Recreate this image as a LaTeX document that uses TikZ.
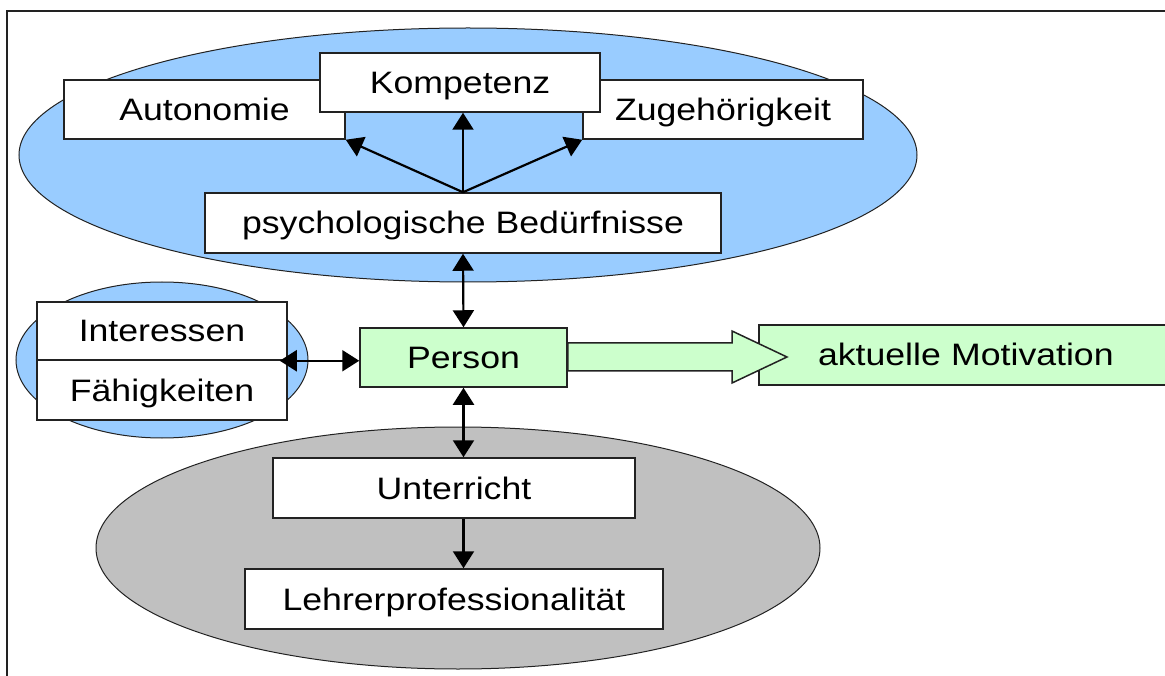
\documentclass[tikz,border=0pt]{standalone}
\usepackage{fontspec}
\setmainfont{Liberation Sans}[FakeStretch=1.15]
\usetikzlibrary{arrows.meta}

\definecolor{needblue}{HTML}{99CCFF}
\definecolor{teachgray}{HTML}{C0C0C0}
\definecolor{motgreen}{HTML}{CCFFCC}
\definecolor{edge}{HTML}{222222}

\tikzset{
  blob/.style={draw=edge, line width=1pt},
  box/.style={draw=edge, line width=1.5pt, fill=white, inner sep=0pt,
    font=\fontsize{31}{36}\selectfont, text height=24pt, text depth=2pt},
  greenbox/.style={box, fill=motgreen},
  link/.style={draw=black, line width=2.2pt,
    -{Triangle[length=17pt,width=21pt]}},
  biglink/.style={link, {Triangle[length=17pt,width=21pt]}-{Triangle[length=17pt,width=21pt]}}
}

\begin{document}
\begin{tikzpicture}[x=1pt,y=-1pt]
\clip (0,0) rectangle (1165,676);
\fill[white] (0,0) rectangle (1165,676);

% outer frame (open to the right and bottom)
\draw[edge, line width=2pt] (7,700) -- (7,11) -- (1200,11);

% grouping ellipses
\filldraw[blob, fill=needblue] (468,155) ellipse [x radius=449, y radius=127];
\filldraw[blob, fill=needblue] (162,360) ellipse [x radius=146, y radius=78];
\filldraw[blob, fill=teachgray] (458,548) ellipse [x radius=362, y radius=121];

% basic psychological needs
\node[box, minimum width=281pt, minimum height=59pt] (aut) at (204.5,109.5) {Autonomie};
\node[box, minimum width=280pt, minimum height=59pt] (zug) at (723,109.5) {Zugehörigkeit};
\node[box, minimum width=280pt, minimum height=59pt] (komp) at (460,82.5) {Kompetenz};
\node[box, minimum width=516pt, minimum height=60pt] (bed) at (463,223) {psychologische Bedürfnisse};

% interests and abilities
\node[box, minimum width=250pt, minimum height=58pt] (int) at (162,331) {Interessen};
\node[box, minimum width=250pt, minimum height=60pt] (fae) at (162,390) {Fähigkeiten};

% person and outcome
\node[greenbox, minimum width=207pt, minimum height=59pt] (person) at (463.5,357.5) {Person};
\node[greenbox, minimum width=416pt, minimum height=60pt, text width=380pt, align=left] (mot) at (967,355)
  {\hspace*{41pt}aktuelle Motivation};

% teaching
\node[box, minimum width=362pt, minimum height=60pt] (unt) at (454,488) {Unterricht};
\node[box, minimum width=418pt, minimum height=60pt] (lehr) at (454,599) {Lehrerprofessionalität};

% connectors
\draw[link] (bed.north) -- (bed.north |- komp.south);
\draw[link] (bed.north) -- (aut.south east);
\draw[link] (bed.north) -- (zug.south west);
\draw[biglink] (bed.south) -- (person.north);
\draw[biglink] ([xshift=-8pt]int.south east) -- (person.west |- int.south east);
\draw[biglink] (person.south) -- (person.south |- unt.north);
\draw[link] (unt.south -| person.south) -- (lehr.north -| person.south);

% block arrow towards current motivation
\coordinate (tip) at (787,357);
\filldraw[draw=edge, line width=1.5pt, fill=motgreen, line join=miter]
  (person.east |- 0,343) -- (732,343) -- (732,331) -- (tip)
  -- (732,383) -- (732,371) -- (person.east |- 0,371) -- cycle;
\end{tikzpicture}
\end{document}
